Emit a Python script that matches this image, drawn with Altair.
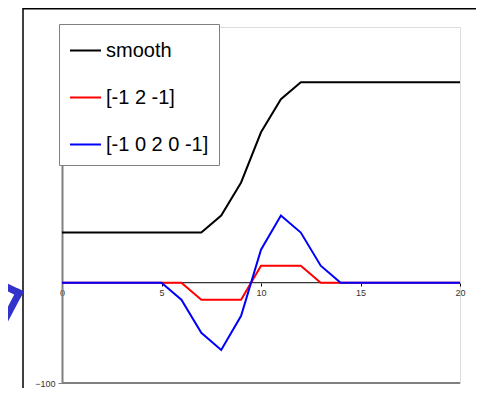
import altair as alt
import pandas as pd

x_vals = list(range(21))
series_names = ["smooth", "[-1 2 -1]", "[-1 0 2 0 -1]"]
series_colors = ["#000000", "#ff0000", "#0000ff"]
smooth = [50, 50, 50, 50, 50, 50, 50, 50, 67, 100, 150, 183, 200, 200, 200, 200, 200, 200, 200, 200, 200]
kern3 = [0, 0, 0, 0, 0, 0, 0, -17, -17, -17, 17, 17, 17, 0, 0, 0, 0, 0, 0, 0, 0]
kern5 = [0, 0, 0, 0, 0, 0, -17, -50, -67, -33, 33, 67, 50, 17, 0, 0, 0, 0, 0, 0, 0]
x_ticks = [0, 5, 10, 15, 20]
y_ticks = [-100]

rows = []
for name, vals in zip(series_names, [smooth, kern3, kern5]):
    for xv, yv in zip(x_vals, vals):
        rows.append({"s": name, "x": xv, "y": yv})
df = pd.DataFrame(rows)
deco = pd.DataFrame({"a": [0]})

xscale = alt.Scale(domain=[0, 20], nice=False, zero=False)
yscale = alt.Scale(domain=[-100, 255], nice=False, zero=False)
cscale = alt.Scale(domain=series_names, range=series_colors)

legend = alt.Legend(
    orient="none", legendX=-3, legendY=-3, padding=10,
    strokeColor="#808080", fillColor="white",
    symbolType="stroke", symbolSize=961, symbolStrokeWidth=2,
    labelFontSize=20, labelFont="Liberation Sans", labelColor="#000000",
    labelOffset=4, rowPadding=20, title=None,
)

def line_layer(name, first=False):
    enc = dict(
        x=alt.X("x:Q", scale=xscale,
                axis=alt.Axis(values=x_ticks, offset=-100, domain=False, grid=False,
                              tickColor="#000000", tickSize=3, labelFontSize=9,
                              labelFont="Liberation Sans", labelColor="#333333",
                              labelPadding=2, labelFlush=False, title=None)) if first else alt.X("x:Q", scale=xscale),
        y=alt.Y("y:Q", scale=yscale,
                axis=alt.Axis(values=y_ticks, grid=False, domainColor="#808080", domainWidth=2,
                              tickColor="#808080", tickSize=4, labelFontSize=9,
                              labelFont="Liberation Sans", labelColor="#333333",
                              labelPadding=3, title=None)) if first else alt.Y("y:Q", scale=yscale),
        color=alt.Color("s:N", scale=cscale, legend=legend, sort=series_names),
    )
    return (alt.Chart(df).transform_filter(alt.datum.s == name)
            .mark_line(strokeWidth=2).encode(**enc))

zero_rule = alt.Chart(deco).mark_rule(color="#000000", strokeWidth=1).encode(y=alt.datum(0))
bottom_rule = alt.Chart(deco).mark_rule(color="#808080", strokeWidth=2).encode(y=alt.datum(-100))

frame_top = alt.Chart(deco).mark_rule(color="#000000", strokeWidth=1.5).encode(
    x=alt.value(-39), x2=alt.value(430), y=alt.value(-18.2), y2=alt.value(-18.2))
frame_left = alt.Chart(deco).mark_rule(color="#000000", strokeWidth=1.5).encode(
    x=alt.value(-39), x2=alt.value(-39), y=alt.value(-19), y2=alt.value(370))
chev1 = alt.Chart(deco).mark_rule(color="#3333cc", strokeWidth=7, strokeCap="square").encode(
    x=alt.value(-66), x2=alt.value(-43), y=alt.value(255), y2=alt.value(266))
chev2 = alt.Chart(deco).mark_rule(color="#3333cc", strokeWidth=7, strokeCap="square").encode(
    x=alt.value(-43), x2=alt.value(-64), y=alt.value(266), y2=alt.value(306))

chart = alt.layer(
    zero_rule, bottom_rule,
    line_layer(series_names[0], first=True),
    line_layer(series_names[1]),
    line_layer(series_names[2]),
    frame_top, frame_left, chev1, chev2,
).properties(
    width=398, height=356,
    autosize=alt.AutoSizeParams(type="none"),
    padding={"left": 54, "top": 19, "right": 16, "bottom": 5},
).configure_view(
    stroke="#b0b0b0", strokeWidth=1.5
).configure(background="white")

chart.save("out.html", embed_options={"renderer": "svg", "actions": False})
